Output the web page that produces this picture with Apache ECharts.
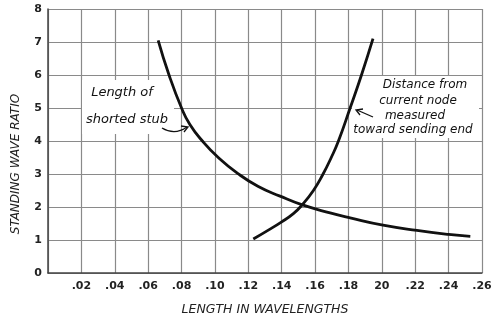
<!DOCTYPE html>
<html><head><meta charset="utf-8">
<script src="https://cdn.jsdelivr.net/npm/echarts@6/dist/echarts.min.js"></script>
<style>html,body{margin:0;padding:0;background:#fff}#c{width:498px;height:321px}</style>
</head><body><div id="c"></div>
<script>
// tick labels as printed
const xTickLabels = ['', '.02', '.04', '.06', '.08', '.10', '.12', '.14', '.16', '.18', '20', '.22', '.24', '.26'];
const yTickLabels = ['0', '1', '2', '3', '4', '5', '6', '7', '8'];
// Length of shorted stub
const stubX = [0.066, 0.0725, 0.0800, 0.0850, 0.0925, 0.1020, 0.1136, 0.1260, 0.1390, 0.1520, 0.1690, 0.1810, 0.2007, 0.2210, 0.2400, 0.2530];
const stubY = [7.05, 6.0, 5.0, 4.5, 4.0, 3.5, 3.02, 2.62, 2.33, 2.07, 1.82, 1.67, 1.45, 1.29, 1.17, 1.11];
// Distance from current node
const nodeX = [0.123, 0.132, 0.140, 0.147, 0.152, 0.159, 0.1648, 0.1697, 0.1740, 0.1810, 0.1878, 0.1947];
const nodeY = [1.03, 1.3, 1.55, 1.8, 2.05, 2.5, 3.0, 3.5, 4.0, 5.0, 6.0, 7.1];

const chart = echarts.init(document.getElementById('c'), null, {renderer: 'canvas'});
const pairs = (xs, ys) => xs.map((x, i) => [x, ys[i]]);
const tickFont = {fontFamily: 'DejaVu Sans', fontWeight: 'bold', fontSize: 11, color: '#222'};
const annFont = 'italic 12px "DejaVu Sans"';

chart.setOption({
  backgroundColor: '#fff',
  animation: false,
  grid: {left: 48, right: 16, top: 9, bottom: 43},
  xAxis: {
    type: 'value', min: 0, max: 0.26, interval: 0.02,
    axisLine: {show: true, onZero: false, lineStyle: {color: '#444', width: 1.5}},
    axisTick: {show: false},
    splitLine: {show: true, lineStyle: {color: '#8a8a8a', width: 1.2}},
    axisLabel: Object.assign({margin: 8, formatter: v => xTickLabels[Math.round(v / 0.02)] || ''}, tickFont),
    name: 'LENGTH IN WAVELENGTHS', nameLocation: 'middle', nameGap: 30,
    nameTextStyle: {fontFamily: 'DejaVu Sans', fontStyle: 'italic', fontSize: 12.5, color: '#222'}
  },
  yAxis: {
    type: 'value', min: 0, max: 8, interval: 1,
    axisLine: {show: true, onZero: false, lineStyle: {color: '#444', width: 1.5}},
    axisTick: {show: false},
    splitLine: {show: true, lineStyle: {color: '#8a8a8a', width: 1.2}},
    axisLabel: Object.assign({margin: 6, formatter: v => yTickLabels[Math.round(v)] || ''}, tickFont)
  },
  series: [
    {type: 'line', data: pairs(stubX, stubY), smooth: 0.5, showSymbol: false, z: 3,
     lineStyle: {color: '#111', width: 2.8}},
    {type: 'line', data: pairs(nodeX, nodeY), smooth: 0.5, showSymbol: false, z: 3,
     lineStyle: {color: '#111', width: 2.8}}
  ],
  graphic: [
    {type: 'text', x: 16, y: 164, rotation: Math.PI / 2, z: 1, silent: true,
     style: {text: 'STANDING WAVE RATIO', font: 'italic 12px "DejaVu Sans"', fill: '#222', textAlign: 'center', textVerticalAlign: 'middle'}},
    // label boxes
    {type: 'rect', shape: {x: 82, y: 80, width: 92, height: 54}, style: {fill: '#fff'}, z: 2},
    {type: 'rect', shape: {x: 352, y: 76, width: 127, height: 62}, style: {fill: '#fff'}, z: 2},
    {type: 'text', x: 122, y: 93, z: 4, style: {text: 'Length of', font: 'italic 13px "DejaVu Sans"', fill: '#111', textAlign: 'center', textVerticalAlign: 'middle'}},
    {type: 'text', x: 127, y: 120, z: 4, style: {text: 'shorted stub', font: 'italic 13px "DejaVu Sans"', fill: '#111', textAlign: 'center', textVerticalAlign: 'middle'}},
    {type: 'text', x: 425, y: 85, z: 4, style: {text: 'Distance from', font: annFont, fill: '#111', textAlign: 'center', textVerticalAlign: 'middle'}},
    {type: 'text', x: 418, y: 101, z: 4, style: {text: 'current node', font: annFont, fill: '#111', textAlign: 'center', textVerticalAlign: 'middle'}},
    {type: 'text', x: 415, y: 116, z: 4, style: {text: 'measured', font: annFont, fill: '#111', textAlign: 'center', textVerticalAlign: 'middle'}},
    {type: 'text', x: 413, y: 130, z: 4, style: {text: 'toward sending end', font: annFont, fill: '#111', textAlign: 'center', textVerticalAlign: 'middle'}},
    // arrows
    {type: 'bezierCurve', z: 4, shape: {x1: 162, y1: 128, x2: 187, y2: 127, cpx1: 172, cpy1: 134, cpx2: 180, cpy2: 132}, style: {stroke: '#111', lineWidth: 1.3, fill: null}},
    {type: 'polyline', z: 4, shape: {points: [[181, 126], [188, 127], [184, 132]]}, style: {stroke: '#111', lineWidth: 1.3, fill: null}},
    {type: 'line', z: 4, shape: {x1: 373, y1: 117, x2: 357, y2: 110}, style: {stroke: '#111', lineWidth: 1.3}},
    {type: 'polyline', z: 4, shape: {points: [[363, 109], [356, 110], [360, 115]]}, style: {stroke: '#111', lineWidth: 1.3, fill: null}}
  ]
});
</script>
</body></html>
